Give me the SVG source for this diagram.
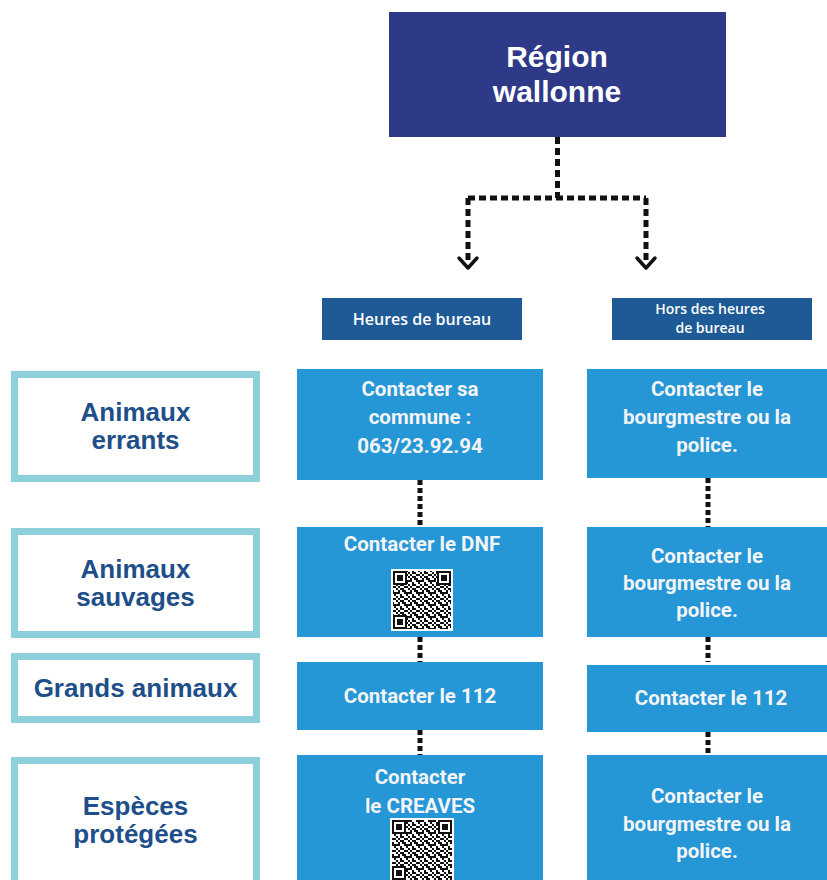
<svg xmlns="http://www.w3.org/2000/svg" width="827" height="880" viewBox="0 0 827 880">
<style>
.top{fill:#2E3A87}
.hdr{fill:#1E5B96}
.box{fill:#2596D6}
.lbl{fill:#fff;stroke:#8DD0DC;stroke-width:7}
.tTop{font-family:"Liberation Sans",Arial,sans-serif;font-weight:bold;font-size:30px;fill:#fff;text-anchor:middle}
.tHdr{font-family:"Open Sans","Liberation Sans",sans-serif;font-weight:600;fill:#fff;text-anchor:middle}
.tLbl{font-family:"Liberation Sans",Arial,sans-serif;font-weight:bold;font-size:26px;fill:#1E4F8A;text-anchor:middle}
.tBox{font-family:Roboto,"Liberation Sans",sans-serif;font-weight:bold;font-size:20.5px;fill:#F2F4F6;text-anchor:middle}
.dash{fill:none;stroke:#111;stroke-width:5;stroke-dasharray:7 4}
.dot{fill:none;stroke:#111;stroke-width:5;stroke-dasharray:5 3}
.chev{fill:none;stroke:#111;stroke-width:3.5;stroke-linecap:round;stroke-linejoin:round}
</style>
<defs>
<pattern id="qrp" width="12" height="12" patternUnits="userSpaceOnUse">
<path d="M0 0h2v2H0zM4 0h4v2H4zM2 2h2v2H2zM6 2h4v2H6zM0 4h4v2H0zM8 4h4v2H8zM4 6h2v2H4zM10 6h2v2h-2zM0 8h2v2H0zM4 8h4v2H4zM2 10h2v2H2zM8 10h4v2H8z" fill="#111"/>
</pattern>
<g id="finder">
<rect width="14" height="14" fill="#111"/>
<rect x="2" y="2" width="10" height="10" fill="#fff"/>
<rect x="4" y="4" width="6" height="6" fill="#111"/>
</g>
</defs>
<rect width="827" height="880" fill="#fff"/>

<g id="connectors">
<path class="dash" d="M557.5 137V198M468 198H646M468 198V262M646 198V262"/>
<polyline class="chev" points="459,258 468,268 477,258"/>
<polyline class="chev" points="637,258 646,268 655,258"/>
<path class="dot" d="M420 480V527M708 478V527M420 637V662M708 637V662M420 730V755M708 732V755"/>
</g>

<g id="region">
<rect class="top" x="389" y="12" width="337" height="125"/>
<text class="tTop" x="557" y="67">Région</text>
<text class="tTop" x="557" y="102">wallonne</text>
</g>

<g id="hdr-bureau">
<rect class="hdr" x="322" y="298" width="200" height="42"/>
<text class="tHdr" x="422" y="325" font-size="16">Heures de bureau</text>
</g>
<g id="hdr-hors">
<rect class="hdr" x="612" y="298" width="200" height="42"/>
<text class="tHdr" x="710" y="314" font-size="14">Hors des heures</text>
<text class="tHdr" x="710" y="333" font-size="14">de bureau</text>
</g>

<g id="lbl-errants">
<rect class="lbl" x="14.5" y="374.5" width="242" height="104"/>
<text class="tLbl" x="135.5" y="421">Animaux</text>
<text class="tLbl" x="135.5" y="449">errants</text>
</g>
<g id="lbl-sauvages">
<rect class="lbl" x="14.5" y="531.5" width="242" height="103"/>
<text class="tLbl" x="135.5" y="578">Animaux</text>
<text class="tLbl" x="135.5" y="606">sauvages</text>
</g>
<g id="lbl-grands">
<rect class="lbl" x="14.5" y="656.5" width="242" height="63"/>
<text class="tLbl" x="135.5" y="697">Grands animaux</text>
</g>
<g id="lbl-especes">
<rect class="lbl" x="14.5" y="760.5" width="242" height="130"/>
<text class="tLbl" x="135.5" y="815">Espèces</text>
<text class="tLbl" x="135.5" y="843">protégées</text>
</g>

<g id="b1-bureau">
<rect class="box" x="297" y="369" width="246" height="111"/>
<text class="tBox" x="420" y="396">Contacter sa</text>
<text class="tBox" x="420" y="424">commune :</text>
<text class="tBox" x="420" y="453">063/23.92.94</text>
</g>
<g id="b1-hors">
<rect class="box" x="587" y="369" width="240" height="109"/>
<text class="tBox" x="707" y="396">Contacter le</text>
<text class="tBox" x="707" y="424">bourgmestre ou la</text>
<text class="tBox" x="707" y="452">police.</text>
</g>

<g id="b2-bureau">
<rect class="box" x="297" y="527" width="246" height="110"/>
<text class="tBox" x="422" y="551">Contacter le DNF</text>
<g id="qr1">
<rect x="391" y="569" width="62" height="62" fill="#fff"/>
<rect x="393" y="571" width="58" height="58" fill="url(#qrp)"/>
<use href="#finder" x="393" y="571"/>
<use href="#finder" x="437" y="571"/>
<use href="#finder" x="393" y="615"/>
</g>
</g>
<g id="b2-hors">
<rect class="box" x="587" y="527" width="240" height="110"/>
<text class="tBox" x="707" y="563">Contacter le</text>
<text class="tBox" x="707" y="590">bourgmestre ou la</text>
<text class="tBox" x="707" y="617">police.</text>
</g>

<g id="b3-bureau">
<rect class="box" x="297" y="662" width="246" height="68"/>
<text class="tBox" x="420" y="703">Contacter  le 112</text>
</g>
<g id="b3-hors">
<rect class="box" x="587" y="665" width="240" height="67"/>
<text class="tBox" x="711" y="705">Contacter  le 112</text>
</g>

<g id="b4-bureau">
<rect class="box" x="297" y="755" width="246" height="130"/>
<text class="tBox" x="420" y="784">Contacter</text>
<text class="tBox" x="420" y="813">le CREAVES</text>
<g id="qr2">
<rect x="390" y="818" width="64" height="70" fill="#fff"/>
<rect x="392" y="820" width="60" height="66" fill="url(#qrp)"/>
<use href="#finder" x="392" y="820"/>
<use href="#finder" x="438" y="820"/>
<use href="#finder" x="392" y="866"/>
</g>
</g>
<g id="b4-hors">
<rect class="box" x="587" y="755" width="240" height="130"/>
<text class="tBox" x="707" y="803">Contacter le</text>
<text class="tBox" x="707" y="831">bourgmestre ou la</text>
<text class="tBox" x="707" y="858">police.</text>
</g>
</svg>
